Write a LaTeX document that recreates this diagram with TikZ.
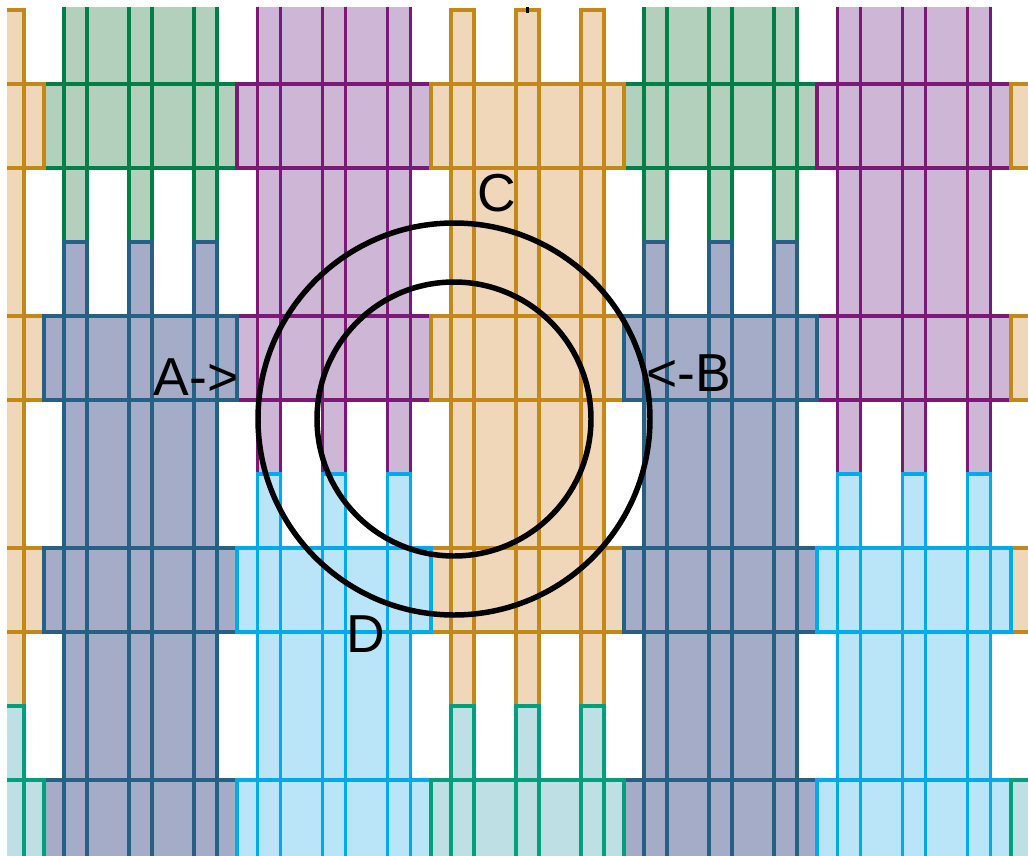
\documentclass[tikz,border=0pt]{standalone}
\usepackage{fontspec}
\setmainfont{Liberation Sans}
\usetikzlibrary{positioning}

\definecolor{greenline}{RGB}{0,128,72}
\definecolor{greenfill}{RGB}{178,208,188}
\definecolor{purpleline}{RGB}{122,26,118}
\definecolor{purplefill}{RGB}{206,182,214}
\definecolor{orangeline}{RGB}{196,136,24}
\definecolor{orangefill}{RGB}{240,215,186}
\definecolor{blueline}{RGB}{38,96,132}
\definecolor{bluefill}{RGB}{164,172,200}
\definecolor{skyline}{RGB}{0,170,236}
\definecolor{skyfill}{RGB}{186,228,248}
\definecolor{tealline}{RGB}{0,160,126}
\definecolor{tealfill}{RGB}{190,224,228}

% one colour of the weave: #1 colour, #2 columns, #3 band rows,
% #4/#5 stripe top/bottom, #6 spans filled across the whole stripe group
\newcommand{\weave}[6]{%
  \foreach \c in {#2}{%
    \foreach \dx in {-65,0,65}
      \fill[#1fill] ({193.33*\c-64.17+\dx},#4) rectangle ++(23,{#5-#4});
    \foreach \ya/\yb in {#6}
      \fill[#1fill] ({193.33*\c-129.17},\ya) rectangle ++(153,{\yb-\ya});
    \foreach \r in {#3}
      \fill[#1fill] ({193.33*\c-149.33},{232*\r-148}) rectangle ++(193.33,84);
  }
  \foreach \c in {#2}{%
    \foreach \dx in {-65,0,65}
      \draw[#1line] ({193.33*\c-64.17+\dx},#4) rectangle ++(23,{#5-#4});
    \foreach \r in {#3}
      \draw[#1line] ({193.33*\c-149.33},{232*\r-148}) rectangle ++(193.33,84);
  }%
}

\begin{document}
\begin{tikzpicture}[
    x=0.025cm, y=-0.025cm,
    every node/.style={font=\fontsize{38}{40}\selectfont, inner sep=0pt},
    ring/.style={draw=black, line width=3.9pt}
]
\useasboundingbox (0,0) rectangle (1028,856);

% WEAVE
\begin{scope}[line width=2.8pt]
\clip (7,7) rectangle (1028,856);
\weave{green}{1,4}{1}{-20}{242}{-20/84}
\weave{purple}{2,5}{1,2}{-20}{474}{-20/84,168/316}
\weave{orange}{0,3,6}{1,2,3}{10}{706}{168/316,401/548}
\weave{blue}{1,4}{2,3,4}{242}{900}{401/548,632/780}
\weave{sky}{2,5}{3,4}{474}{900}{632/780}
\weave{teal}{0,3,6}{4}{706}{900}{870/900}
\end{scope}
\fill (525.5,7) rectangle (528.5,13);

% RINGS
\coordinate (hub) at (454,419);
\draw[ring] (hub) circle[radius=196];
\draw[ring] (hub) circle[radius=137];

% LABELS
\node (labA) at (196,377) {A->};
\node (labB) at (689,373) {<-B};
\node (labC) at (497,193) {C};
\node (labD) at (366,634) {D};

\end{tikzpicture}
\end{document}
